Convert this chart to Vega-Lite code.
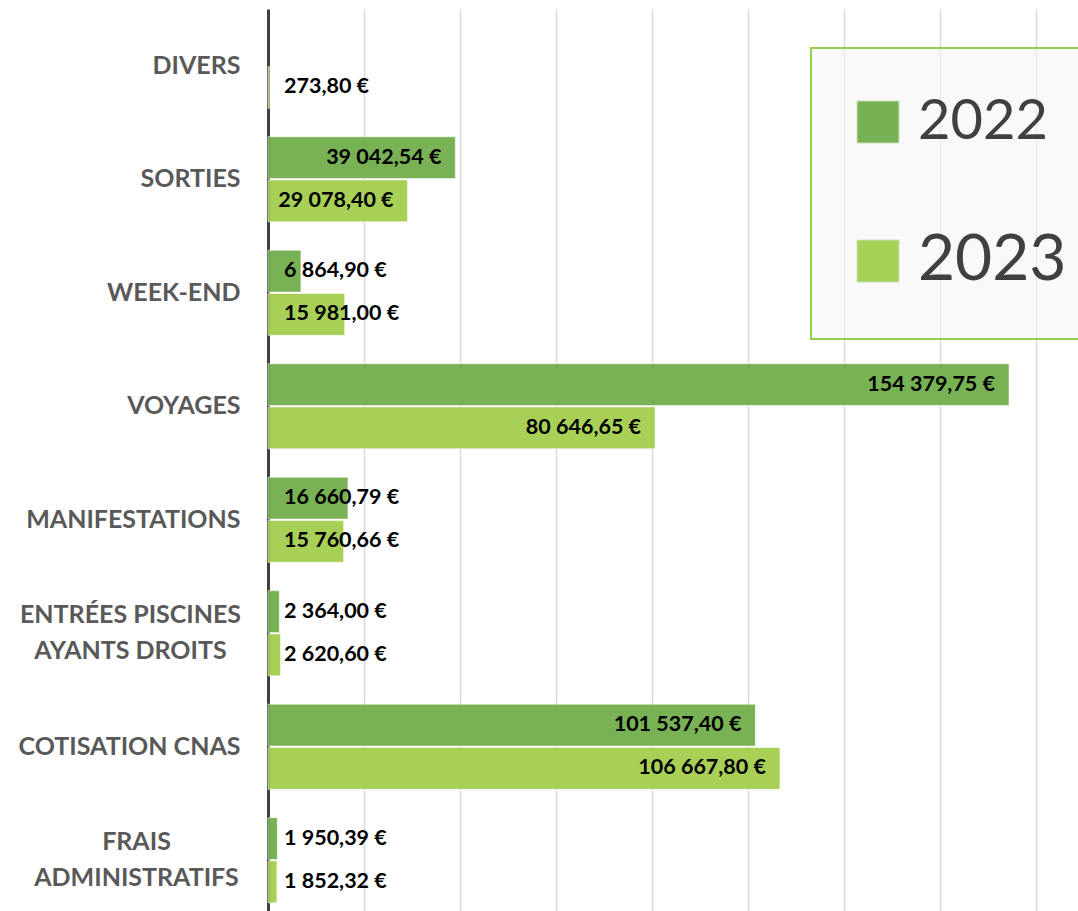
{
  "$schema": "https://vega.github.io/schema/vega-lite/v6.json",
  "width": 810,
  "height": 908,
  "autosize": {"type": "none"},
  "padding": {"left": 268, "top": 9, "right": 0, "bottom": 0},
  "background": "white",
  "config": {
    "locale": {"number": {"decimal": ",", "thousands": " ", "grouping": [3], "currency": ["", " €"]}},
    "view": {"stroke": null},
    "axisY": {
      "title": null,
      "ticks": false,
      "grid": false,
      "labelFont": "Lato",
      "labelFontWeight": "bold",
      "labelFontSize": 25,
      "labelColor": "#595959",
      "labelLimit": 400,
      "labelLineHeight": 36
    }
  },
  "data": {
    "values": [
      {"cat": "DIVERS", "year": "2023", "value": 273.80},
      {"cat": "SORTIES", "year": "2022", "value": 39042.54},
      {"cat": "SORTIES", "year": "2023", "value": 29078.40},
      {"cat": "WEEK-END", "year": "2022", "value": 6864.90},
      {"cat": "WEEK-END", "year": "2023", "value": 15981.00},
      {"cat": "VOYAGES", "year": "2022", "value": 154379.75},
      {"cat": "VOYAGES", "year": "2023", "value": 80646.65},
      {"cat": "MANIFESTATIONS", "year": "2022", "value": 16660.79},
      {"cat": "MANIFESTATIONS", "year": "2023", "value": 15760.66},
      {"cat": "ENTRÉES PISCINES AYANTS DROITS", "year": "2022", "value": 2364.00},
      {"cat": "ENTRÉES PISCINES AYANTS DROITS", "year": "2023", "value": 2620.60},
      {"cat": "COTISATION CNAS", "year": "2022", "value": 101537.40},
      {"cat": "COTISATION CNAS", "year": "2023", "value": 106667.80},
      {"cat": "FRAIS ADMINISTRATIFS", "year": "2022", "value": 1950.39},
      {"cat": "FRAIS ADMINISTRATIFS", "year": "2023", "value": 1852.32}
    ]
  },
  "resolve": {"axis": {"y": "independent"}},
  "encoding": {
    "x": {
      "field": "value",
      "type": "quantitative",
      "scale": {"domain": [0, 168750], "nice": false},
      "axis": {
        "title": null,
        "labels": false,
        "ticks": false,
        "domain": false,
        "grid": true,
        "gridColor": "#d9d9d9",
        "gridWidth": 1.5,
        "values": [20000, 40000, 60000, 80000, 100000, 120000, 140000, 160000]
      }
    },
    "yOffset": {"field": "year", "type": "nominal", "scale": {"paddingInner": 0.03}}
  },
  "layer": [
    {
      "mark": {"type": "bar", "opacity": 0.9, "stroke": "white", "strokeOpacity": 0.6, "strokeWidth": 1},
      "encoding": {
        "y": {
          "field": "cat",
          "type": "nominal",
          "sort": ["DIVERS", "SORTIES", "WEEK-END", "VOYAGES", "MANIFESTATIONS", "ENTRÉES PISCINES AYANTS DROITS", "COTISATION CNAS", "FRAIS ADMINISTRATIFS"],
          "scale": {"paddingInner": 0.25, "paddingOuter": 0.125},
          "axis": {
            "orient": "left",
            "domainColor": "#404040",
            "domainWidth": 3,
            "labelPadding": 28,
            "labelAlign": "right",
            "labelExpr": "datum.value == 'ENTRÉES PISCINES AYANTS DROITS' || datum.value == 'FRAIS ADMINISTRATIFS' ? '' : datum.value"
          }
        },
        "color": {
          "field": "year",
          "type": "nominal",
          "scale": {"domain": ["2022", "2023"], "range": ["#6baa43", "#9fcc45"]},
          "legend": {
            "title": null,
            "orient": "none",
            "legendX": 543,
            "legendY": 39,
            "padding": 46,
            "symbolType": "square",
            "symbolSize": 1764,
            "symbolOffset": -7,
            "symbolOpacity": 0.9,
            "symbolStrokeColor": "#c5e0b4",
            "symbolStrokeWidth": 1,
            "labelFont": "Lato",
            "labelFontSize": 56,
            "labelColor": "#404040",
            "labelOffset": 12,
            "labelLimit": 400,
            "rowPadding": 79,
            "strokeColor": "#92d050",
            "fillColor": "rgba(245,245,245,0.6)",
            "encode": {
              "legend": {"update": {"strokeWidth": {"value": 2}}},
              "labels": {"update": {"fontSize": {"signal": "datum.label == '2023' ? 64 : 56"}}}
            }
          }
        }
      }
    },
    {
      "transform": [{"filter": "datum.value >= 28000"}],
      "mark": {"type": "text", "align": "right", "dx": -14, "font": "Lato", "fontWeight": "bold", "fontSize": 21.5, "color": "black"},
      "encoding": {
        "y": {
          "field": "cat",
          "type": "nominal",
          "sort": ["DIVERS", "SORTIES", "WEEK-END", "VOYAGES", "MANIFESTATIONS", "ENTRÉES PISCINES AYANTS DROITS", "COTISATION CNAS", "FRAIS ADMINISTRATIFS"],
          "axis": {
            "orient": "left",
            "domain": false,
            "labelPadding": 138,
            "labelAlign": "center",
            "labelOffset": -18,
            "labelExpr": "datum.value == 'ENTRÉES PISCINES AYANTS DROITS' ? ['ENTRÉES PISCINES', 'AYANTS DROITS'] : ''"
          }
        },
        "text": {"field": "value", "type": "quantitative", "format": "$,.2f"}
      }
    },
    {
      "transform": [{"filter": "datum.value < 28000"}],
      "mark": {"type": "text", "align": "left", "dx": 16, "font": "Lato", "fontWeight": "bold", "fontSize": 21.5, "color": "black"},
      "encoding": {
        "x": {"datum": 0, "type": "quantitative"},
        "y": {
          "field": "cat",
          "type": "nominal",
          "sort": ["DIVERS", "SORTIES", "WEEK-END", "VOYAGES", "MANIFESTATIONS", "ENTRÉES PISCINES AYANTS DROITS", "COTISATION CNAS", "FRAIS ADMINISTRATIFS"],
          "axis": {
            "orient": "left",
            "domain": false,
            "labelPadding": 132,
            "labelAlign": "center",
            "labelOffset": -18,
            "labelExpr": "datum.value == 'FRAIS ADMINISTRATIFS' ? ['FRAIS', 'ADMINISTRATIFS'] : ''"
          }
        },
        "text": {"field": "value", "type": "quantitative", "format": "$,.2f"}
      }
    }
  ]
}
